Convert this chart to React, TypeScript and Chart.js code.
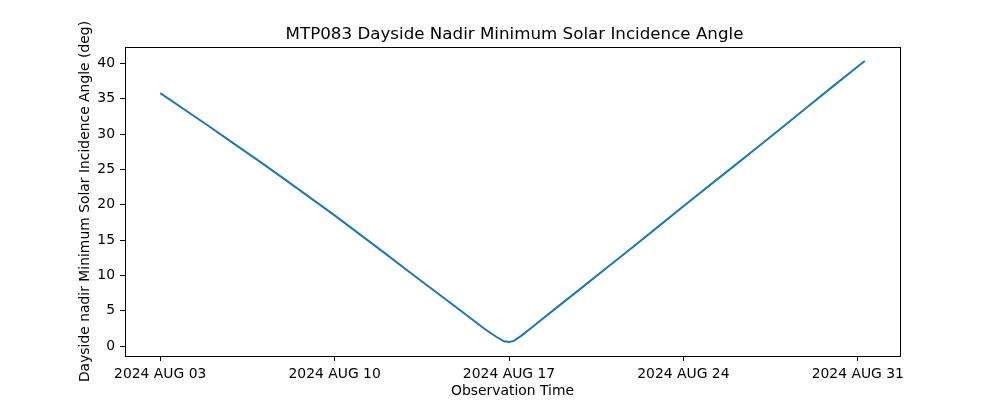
import React, { useEffect, useRef } from "react";
import { Chart, registerables } from "chart.js";

Chart.register(...registerables);

// Days since 2024 AUG 03 00:00
const obsDays = [
  0, 1, 2, 3, 4, 5, 6, 7, 8, 9, 10, 11, 12, 13, 13.5, 13.8, 14, 14.2, 14.5,
  15, 16, 17, 18, 19, 20, 21, 22, 23, 24, 25, 26, 27, 28, 28.28,
];
const incidenceAngle = [
  35.8, 33.4, 31.0, 28.55, 26.1, 23.6, 21.05, 18.5, 15.85, 13.2, 10.5, 7.85,
  5.2, 2.5, 1.3, 0.7, 0.6, 0.75, 1.5, 2.9, 5.7, 8.5, 11.3, 14.1, 16.95, 19.8,
  22.6, 25.4, 28.2, 31.05, 33.9, 36.75, 39.55, 40.33,
];
const xTickDays = [0, 7, 14, 21, 28];
const xTickLabels = [
  "2024 AUG 03",
  "2024 AUG 10",
  "2024 AUG 17",
  "2024 AUG 24",
  "2024 AUG 31",
];
const yTicks = [0, 5, 10, 15, 20, 25, 30, 35, 40];

const chartTitle = "MTP083 Dayside Nadir Minimum Solar Incidence Angle";
const xTitle = "Observation Time";
const yTitle = "Dayside nadir Minimum Solar Incidence Angle (deg)";

const FONT = "'DejaVu Sans', sans-serif";

export default function App() {
  const ref = useRef<HTMLCanvasElement | null>(null);

  useEffect(() => {
    if (!ref.current) return;
    const xMinD = Math.min(...obsDays);
    const xMaxD = Math.max(...obsDays);
    const yMinD = Math.min(...incidenceAngle);
    const yMaxD = Math.max(...incidenceAngle);
    const xm = (xMaxD - xMinD) * 0.05;
    const ym = (yMaxD - yMinD) * 0.05;

    const framePlugin = {
      id: "frame",
      afterDraw(chart: any) {
        const { ctx, chartArea } = chart;
        ctx.save();
        ctx.strokeStyle = "#000";
        ctx.lineWidth = 1;
        ctx.strokeRect(
          Math.round(chartArea.left) + 0.5,
          Math.round(chartArea.top) + 0.5,
          Math.round(chartArea.right - chartArea.left),
          Math.round(chartArea.bottom - chartArea.top)
        );
        ctx.fillStyle = "#000";
        ctx.font = `16.7px ${FONT}`;
        ctx.textAlign = "center";
        ctx.textBaseline = "middle";
        ctx.fillText(chartTitle, (chartArea.left + chartArea.right) / 2 + 2, 35);
        ctx.restore();
      },
    };

    const chart = new Chart(ref.current, {
      type: "line",
      data: {
        datasets: [
          {
            data: obsDays.map((d, i) => ({ x: d, y: incidenceAngle[i] })),
            borderColor: "#1f77b4",
            borderWidth: 2,
            pointRadius: 0,
            fill: false,
            tension: 0,
          },
        ],
      },
      options: {
        animation: false,
        responsive: false,
        devicePixelRatio: 1,
        layout: { padding: { left: 77, right: 100, top: 47, bottom: 0 } },
        plugins: { legend: { display: false }, tooltip: { enabled: false } },
        scales: {
          x: {
            type: "linear",
            min: xMinD - xm,
            max: xMaxD + xm,
            afterFit(scale: any) {
              scale.height = 44;
            },
            afterBuildTicks(scale: any) {
              scale.ticks = xTickDays.map((v) => ({ value: v }));
            },
            border: { display: false },
            grid: {
              drawOnChartArea: false,
              tickLength: 5,
              color: "#000",
            },
            ticks: {
              color: "#000",
              padding: 5,
              maxRotation: 0,
              autoSkip: false,
              font: { family: FONT, size: 13.9 },
              callback: (v: any) => {
                const i = xTickDays.indexOf(Number(v));
                return i >= 0 ? xTickLabels[i] : "";
              },
            },
            title: {
              display: true,
              text: xTitle,
              color: "#000",
              padding: { top: 0, bottom: 0 },
              font: { family: FONT, size: 13.9 },
            },
          },
          y: {
            min: yMinD - ym,
            max: yMaxD + ym,
            afterFit(scale: any) {
              scale.width = 48;
            },
            afterBuildTicks(scale: any) {
              scale.ticks = yTicks.map((v) => ({ value: v }));
            },
            border: { display: false },
            grid: {
              drawOnChartArea: false,
              tickLength: 5,
              color: "#000",
            },
            ticks: {
              color: "#000",
              padding: 5,
              autoSkip: false,
              font: { family: FONT, size: 13.9 },
              callback: (v: any) => String(v),
            },
            title: {
              display: true,
              text: yTitle,
              color: "#000",
              padding: { top: 0, bottom: 0 },
              font: { family: FONT, size: 13.9 },
            },
          },
        },
      },
      plugins: [framePlugin],
    });
    return () => chart.destroy();
  }, []);

  return (
    <div style={{ position: "absolute", left: 0, top: 0, width: 1000, height: 400, background: "#fff" }}>
      <canvas ref={ref} width={1000} height={400} />
    </div>
  );
}
